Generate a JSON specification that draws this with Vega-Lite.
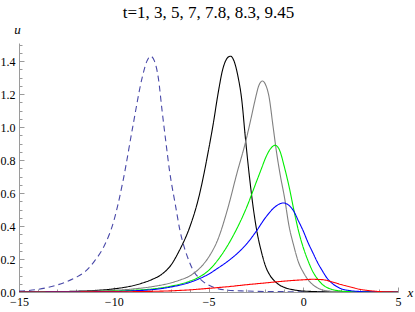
{
  "$schema": "https://vega.github.io/schema/vega-lite/v6.json",
  "width": 379,
  "height": 249,
  "autosize": {"type": "none"},
  "padding": {"left": 19, "top": 43, "right": 17, "bottom": 20},
  "background": "white",
  "title": {"text": "t=1, 3, 5, 7, 7.8, 8.3, 9.45", "font": "Liberation Serif", "fontSize": 17, "fontWeight": "normal", "color": "#000", "offset": 1},
  "config": {"view": {"stroke": null}},
  "data": {"values": [
    {"s":"a1","x":-15,"u":0.005},{"s":"a1","x":-14.5,"u":0.009},{"s":"a1","x":-14,"u":0.016},{"s":"a1","x":-13.5,"u":0.027},{"s":"a1","x":-13,"u":0.042},{"s":"a1","x":-12.5,"u":0.062},{"s":"a1","x":-12,"u":0.088},{"s":"a1","x":-11.5,"u":0.125},{"s":"a1","x":-11,"u":0.19},{"s":"a1","x":-10.5,"u":0.28},{"s":"a1","x":-10,"u":0.43},{"s":"a1","x":-9.5,"u":0.68},{"s":"a1","x":-9,"u":1.0},{"s":"a1","x":-8.5,"u":1.3},{"s":"a1","x":-8.25,"u":1.4},{"s":"a1","x":-8.05,"u":1.43},{"s":"a1","x":-7.85,"u":1.4},{"s":"a1","x":-7.65,"u":1.3},{"s":"a1","x":-7.45,"u":1.1},{"s":"a1","x":-7.25,"u":0.91},{"s":"a1","x":-7.05,"u":0.73},{"s":"a1","x":-6.75,"u":0.53},{"s":"a1","x":-6.5,"u":0.37},{"s":"a1","x":-6.25,"u":0.26},{"s":"a1","x":-6,"u":0.18},{"s":"a1","x":-5.75,"u":0.12},{"s":"a1","x":-5.5,"u":0.085},{"s":"a1","x":-5.25,"u":0.06},{"s":"a1","x":-5,"u":0.042},{"s":"a1","x":-4.5,"u":0.02},{"s":"a1","x":-4,"u":0.011},{"s":"a1","x":-3,"u":0.006},{"s":"a1","x":-2,"u":0.003},{"s":"a1","x":-1,"u":0.002},{"s":"a1","x":0,"u":0.001},{"s":"a1","x":2,"u":0},{"s":"a1","x":5,"u":0},
    {"s":"a2","x":-15,"u":0.0005},{"s":"a2","x":-13,"u":0.002},{"s":"a2","x":-12,"u":0.0045},{"s":"a2","x":-11,"u":0.009},{"s":"a2","x":-10,"u":0.019},{"s":"a2","x":-9.5,"u":0.027},{"s":"a2","x":-9,"u":0.038},{"s":"a2","x":-8.5,"u":0.054},{"s":"a2","x":-8,"u":0.075},{"s":"a2","x":-7.5,"u":0.105},{"s":"a2","x":-7,"u":0.16},{"s":"a2","x":-6.5,"u":0.26},{"s":"a2","x":-6,"u":0.39},{"s":"a2","x":-5.5,"u":0.58},{"s":"a2","x":-5,"u":0.86},{"s":"a2","x":-4.75,"u":1.02},{"s":"a2","x":-4.5,"u":1.2},{"s":"a2","x":-4.25,"u":1.35},{"s":"a2","x":-4,"u":1.42},{"s":"a2","x":-3.85,"u":1.43},{"s":"a2","x":-3.65,"u":1.4},{"s":"a2","x":-3.45,"u":1.31},{"s":"a2","x":-3.25,"u":1.17},{"s":"a2","x":-3.05,"u":0.93},{"s":"a2","x":-2.85,"u":0.71},{"s":"a2","x":-2.65,"u":0.52},{"s":"a2","x":-2.45,"u":0.37},{"s":"a2","x":-2.2,"u":0.24},{"s":"a2","x":-2,"u":0.16},{"s":"a2","x":-1.75,"u":0.1},{"s":"a2","x":-1.5,"u":0.065},{"s":"a2","x":-1.25,"u":0.042},{"s":"a2","x":-1,"u":0.028},{"s":"a2","x":-0.5,"u":0.013},{"s":"a2","x":0,"u":0.006},{"s":"a2","x":0.5,"u":0.003},{"s":"a2","x":1,"u":0.001},{"s":"a2","x":2,"u":0},{"s":"a2","x":5,"u":0},
    {"s":"a3","x":-15,"u":0},{"s":"a3","x":-12,"u":0.003},{"s":"a3","x":-10,"u":0.01},{"s":"a3","x":-9,"u":0.018},{"s":"a3","x":-8,"u":0.032},{"s":"a3","x":-7,"u":0.055},{"s":"a3","x":-6.5,"u":0.073},{"s":"a3","x":-6,"u":0.097},{"s":"a3","x":-5.5,"u":0.14},{"s":"a3","x":-5,"u":0.21},{"s":"a3","x":-4.5,"u":0.32},{"s":"a3","x":-4,"u":0.5},{"s":"a3","x":-3.5,"u":0.72},{"s":"a3","x":-3,"u":0.93},{"s":"a3","x":-2.8,"u":1.03},{"s":"a3","x":-2.55,"u":1.16},{"s":"a3","x":-2.35,"u":1.25},{"s":"a3","x":-2.15,"u":1.28},{"s":"a3","x":-2,"u":1.26},{"s":"a3","x":-1.8,"u":1.18},{"s":"a3","x":-1.6,"u":1.01},{"s":"a3","x":-1.4,"u":0.84},{"s":"a3","x":-1.2,"u":0.7},{"s":"a3","x":-1,"u":0.58},{"s":"a3","x":-0.75,"u":0.4},{"s":"a3","x":-0.5,"u":0.28},{"s":"a3","x":-0.25,"u":0.18},{"s":"a3","x":0,"u":0.12},{"s":"a3","x":0.25,"u":0.075},{"s":"a3","x":0.5,"u":0.045},{"s":"a3","x":0.75,"u":0.025},{"s":"a3","x":1,"u":0.013},{"s":"a3","x":1.5,"u":0.004},{"s":"a3","x":2,"u":0.001},{"s":"a3","x":5,"u":0},
    {"s":"a4","x":-15,"u":0},{"s":"a4","x":-11,"u":0.003},{"s":"a4","x":-9,"u":0.01},{"s":"a4","x":-8,"u":0.018},{"s":"a4","x":-7,"u":0.035},{"s":"a4","x":-6,"u":0.065},{"s":"a4","x":-5.5,"u":0.09},{"s":"a4","x":-5,"u":0.13},{"s":"a4","x":-4.5,"u":0.195},{"s":"a4","x":-4,"u":0.28},{"s":"a4","x":-3.5,"u":0.385},{"s":"a4","x":-3,"u":0.51},{"s":"a4","x":-2.5,"u":0.66},{"s":"a4","x":-2.2,"u":0.75},{"s":"a4","x":-2,"u":0.81},{"s":"a4","x":-1.75,"u":0.865},{"s":"a4","x":-1.48,"u":0.89},{"s":"a4","x":-1.25,"u":0.86},{"s":"a4","x":-1,"u":0.76},{"s":"a4","x":-0.75,"u":0.64},{"s":"a4","x":-0.5,"u":0.5},{"s":"a4","x":-0.25,"u":0.37},{"s":"a4","x":0,"u":0.27},{"s":"a4","x":0.25,"u":0.19},{"s":"a4","x":0.5,"u":0.125},{"s":"a4","x":0.75,"u":0.08},{"s":"a4","x":1,"u":0.047},{"s":"a4","x":1.5,"u":0.016},{"s":"a4","x":2,"u":0.006},{"s":"a4","x":2.5,"u":0.002},{"s":"a4","x":3,"u":0.001},{"s":"a4","x":5,"u":0},
    {"s":"a5","x":-15,"u":0},{"s":"a5","x":-10,"u":0.003},{"s":"a5","x":-9,"u":0.007},{"s":"a5","x":-8,"u":0.014},{"s":"a5","x":-7,"u":0.03},{"s":"a5","x":-6.5,"u":0.042},{"s":"a5","x":-6,"u":0.058},{"s":"a5","x":-5.5,"u":0.08},{"s":"a5","x":-5,"u":0.108},{"s":"a5","x":-4.5,"u":0.145},{"s":"a5","x":-4,"u":0.185},{"s":"a5","x":-3.5,"u":0.232},{"s":"a5","x":-3,"u":0.29},{"s":"a5","x":-2.5,"u":0.365},{"s":"a5","x":-2,"u":0.45},{"s":"a5","x":-1.5,"u":0.515},{"s":"a5","x":-1.06,"u":0.54},{"s":"a5","x":-0.75,"u":0.525},{"s":"a5","x":-0.5,"u":0.49},{"s":"a5","x":-0.25,"u":0.43},{"s":"a5","x":0,"u":0.37},{"s":"a5","x":0.25,"u":0.3},{"s":"a5","x":0.5,"u":0.24},{"s":"a5","x":0.75,"u":0.18},{"s":"a5","x":1,"u":0.13},{"s":"a5","x":1.25,"u":0.085},{"s":"a5","x":1.5,"u":0.055},{"s":"a5","x":2,"u":0.02},{"s":"a5","x":2.5,"u":0.008},{"s":"a5","x":3,"u":0.003},{"s":"a5","x":3.5,"u":0.001},{"s":"a5","x":5,"u":0},
    {"s":"a6","x":-15,"u":0},{"s":"a6","x":-10,"u":0.001},{"s":"a6","x":-8,"u":0.004},{"s":"a6","x":-7,"u":0.007},{"s":"a6","x":-6,"u":0.013},{"s":"a6","x":-5,"u":0.022},{"s":"a6","x":-4,"u":0.032},{"s":"a6","x":-3,"u":0.044},{"s":"a6","x":-2,"u":0.055},{"s":"a6","x":-1,"u":0.066},{"s":"a6","x":0,"u":0.074},{"s":"a6","x":0.5,"u":0.077},{"s":"a6","x":1,"u":0.075},{"s":"a6","x":1.5,"u":0.062},{"s":"a6","x":2,"u":0.045},{"s":"a6","x":2.5,"u":0.03},{"s":"a6","x":3,"u":0.016},{"s":"a6","x":3.5,"u":0.008},{"s":"a6","x":4,"u":0.003},{"s":"a6","x":4.5,"u":0.001},{"s":"a6","x":5,"u":0}
  ]},
  "mark": {"type": "line", "strokeWidth": 1.1, "interpolate": "monotone", "clip": true},
  "encoding": {
    "x": {"field": "x", "type": "quantitative",
      "scale": {"domain": [-15, 5], "nice": false, "zero": false},
      "axis": {"values": [-15,-14,-13,-12,-11,-10,-9,-8,-7,-6,-5,-4,-3,-2,-1,0,1,2,3,4,5],
        "labelExpr": "datum.value % 5 === 0 ? datum.label : ''",
        "tickSize": {"condition": {"test": "datum.value % 5 === 0", "value": -5}, "value": -3},
        "domainColor": "#9a9a9a", "tickColor": "#9a9a9a", "grid": false,
        "labelFont": "Liberation Serif", "labelFontSize": 12, "labelColor": "#000", "labelPadding": 9,
        "labelOverlap": false, "labelFlush": false,
        "title": "x", "titleFont": "Liberation Serif", "titleFontStyle": "italic", "titleFontWeight": "normal", "titleFontSize": 13, "titleColor": "#000",
        "titleX": 388, "titleY": 0, "titleAlign": "left", "titleBaseline": "middle", "titleAngle": 0}},
    "y": {"field": "u", "type": "quantitative",
      "scale": {"domain": [0, 1.51], "nice": false},
      "axis": {"values": [0,0.05,0.1,0.15,0.2,0.25,0.3,0.35,0.4,0.45,0.5,0.55,0.6,0.65,0.7,0.75,0.8,0.85,0.9,0.95,1,1.05,1.1,1.15,1.2,1.25,1.3,1.35,1.4,1.45,1.5],
        "labelExpr": "abs(datum.value*5 - round(datum.value*5)) < 0.001 ? format(datum.value, '.1f') : ''",
        "tickSize": {"condition": {"test": "abs(datum.value*5 - round(datum.value*5)) < 0.001", "value": -5}, "value": -3},
        "domainColor": "#9a9a9a", "tickColor": "#9a9a9a", "grid": false,
        "labelFont": "Liberation Serif", "labelFontSize": 12, "labelColor": "#000", "labelPadding": 9,
        "labelOverlap": false, "labelFlush": false,
        "title": "u", "titleFont": "Liberation Serif", "titleFontStyle": "italic", "titleFontWeight": "normal", "titleFontSize": 13, "titleColor": "#000",
        "titleX": -2, "titleY": -10, "titleAlign": "center", "titleBaseline": "alphabetic", "titleAngle": 0}},
    "color": {"field": "s", "type": "nominal", "legend": null,
      "scale": {"domain": ["a1","a2","a3","a4","a5","a6"], "range": ["#4848a8","#000000","#808080","#00ee00","#0000ff","#ff0000"]}},
    "strokeDash": {"field": "s", "type": "nominal", "legend": null,
      "scale": {"domain": ["a1","a2","a3","a4","a5","a6"], "range": [[6,4],[1,0],[1,0],[1,0],[1,0],[1,0]]}}
  }
}
